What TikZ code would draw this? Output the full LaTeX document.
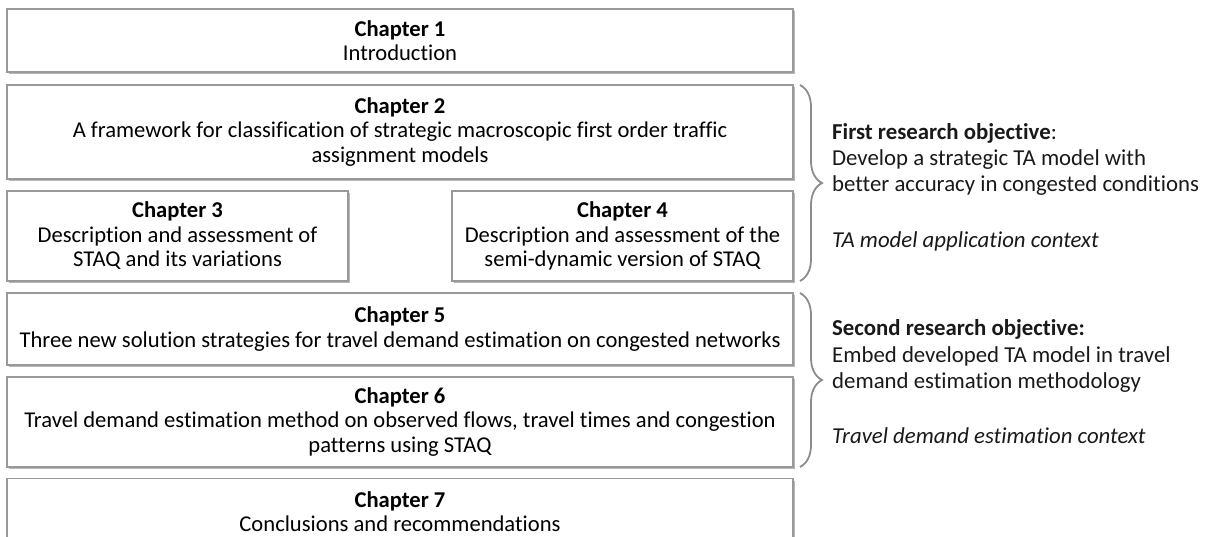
\documentclass[tikz,border=0pt]{standalone}
\usepackage{fontspec}
\setmainfont{Carlito}[Ligatures=NoCommon]
\usetikzlibrary{positioning,shadows,decorations.pathreplacing}

\tikzset{
  chapbox/.style={draw=black!40, line width=1.2pt, fill=white,
    drop shadow={shadow xshift=2pt, shadow yshift=-2pt, fill=black!35, opacity=0.8},
    align=center, inner sep=0pt, font=\fontsize{22.6}{24.5}\selectfont},
  objbrace/.style={draw=black!45, line width=1.8pt,
    decorate, decoration={brace, amplitude=22pt}},
  objtext/.style={align=left, inner sep=0pt, text=black!90, font=\fontsize{22.8}{26.3}\selectfont}
}

\begin{document}
\begin{tikzpicture}[x=1pt, y=-1pt]
  \useasboundingbox (0,0) rectangle (1207,537);

  % chapters
  \node[chapbox, minimum width=786pt, minimum height=63pt] (ch1) at (400,40.5)
    {\textbf{Chapter 1}\\Introduction};
  \node[chapbox, minimum width=786pt, minimum height=94pt] (ch2) at (400,132)
    {\textbf{Chapter 2}\\A framework for classification of strategic macroscopic first order traffic\\assignment models};
  \node[chapbox, minimum width=341pt, minimum height=90pt] (ch3) at (177.5,236)
    {\textbf{Chapter 3}\\Description and assessment of\\STAQ and its variations};
  \node[chapbox, minimum width=341pt, minimum height=90pt] (ch4) at (622.5,236)
    {\textbf{Chapter 4}\\Description and assessment of the\\semi-dynamic version of STAQ};
  \node[chapbox, minimum width=786pt, minimum height=72pt] (ch5) at (400,329)
    {\textbf{Chapter 5}\\Three new solution strategies for travel demand estimation on congested networks};
  \node[chapbox, minimum width=786pt, minimum height=90pt] (ch6) at (400,422)
    {\textbf{Chapter 6}\\Travel demand estimation method on observed flows, travel times and congestion\\patterns using STAQ};
  \node[chapbox, minimum width=786pt, minimum height=66pt, anchor=north] (ch7) at (400,478)
    {\textbf{Chapter 7}\\Conclusions and recommendations};

  % research objectives
  \draw[objbrace] (800,85) -- (800,281);
  \draw[objbrace] (800,293) -- (800,467);
  \coordinate (tip1) at (823,187);
  \coordinate (tip2) at (823,382);

  \node[objtext, anchor=west, right=9pt of tip1] (obj1)
    {\textbf{First research objective}:\\Develop a strategic TA model with\\better accuracy in congested conditions\\[29pt]\textit{TA model application context}};
  \node[objtext, anchor=west, right=9pt of tip2] (obj2)
    {\textbf{Second research objective:}\\Embed developed TA model in travel\\demand estimation methodology\\[29pt]\textit{Travel demand estimation context}};

\end{tikzpicture}
\end{document}
